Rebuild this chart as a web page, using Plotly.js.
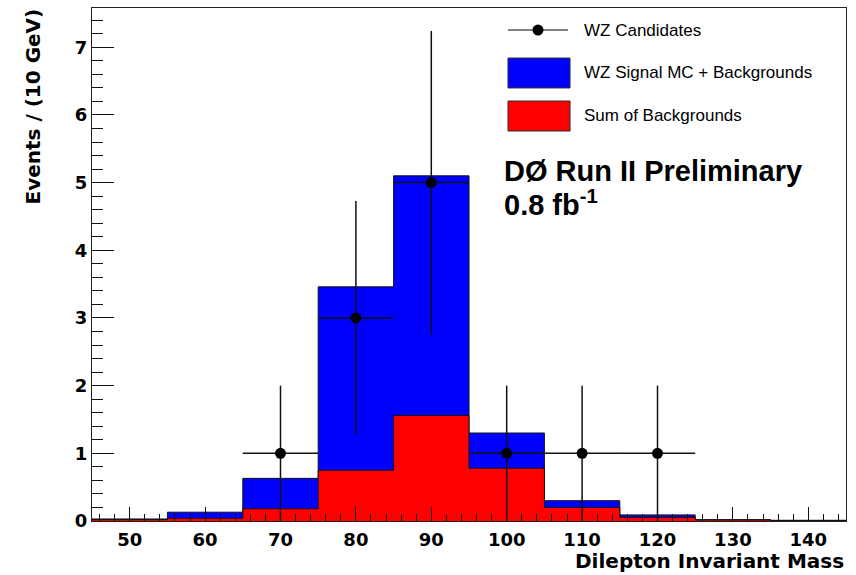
<!DOCTYPE html>
<html>
<head>
<meta charset="utf-8">
<script src="https://cdn.plot.ly/plotly-3.0.1.min.js"></script>
<style>html,body{margin:0;padding:0;background:#fff;}#chart{width:856px;height:575px;}</style>
</head>
<body>
<div id="chart"></div>
<script>
// Bin low edges (GeV), bin width 10
var binEdges = [45, 55, 65, 75, 85, 95, 105, 115, 125, 135, 145];
// WZ Signal MC + Backgrounds (stacked total)
var signalPlusBkg = [0.03, 0.13, 0.63, 3.46, 5.10, 1.30, 0.30, 0.09, 0.02, 0.01];
// Sum of Backgrounds
var sumBkg = [0.02, 0.04, 0.18, 0.75, 1.56, 0.78, 0.20, 0.055, 0.015, 0.008];
// WZ candidates (data)
var dataX = [70, 80, 90, 100, 110, 120];
var dataY = [1, 3, 5, 1, 1, 1];
var dataErrY = [1.0, 1.73, 2.24, 1.0, 1.0, 1.0];
var dataErrX = [5, 5, 5, 5, 5, 5];
var xTickVals = [50, 60, 70, 80, 90, 100, 110, 120, 130, 140];
var yTickVals = [0, 1, 2, 3, 4, 5, 6, 7];

function stepY(v) { return v.concat([v[v.length - 1]]); }

var traces = [
  {
    type: 'scatter', mode: 'lines', x: binEdges, y: stepY(signalPlusBkg),
    line: {shape: 'hv', color: '#111', width: 1},
    fill: 'tozeroy', fillcolor: '#0000ff', hoverinfo: 'skip', showlegend: false
  },
  {
    type: 'scatter', mode: 'lines', x: binEdges, y: stepY(sumBkg),
    line: {shape: 'hv', color: '#111', width: 1},
    fill: 'tozeroy', fillcolor: '#ff0000', hoverinfo: 'skip', showlegend: false
  },
  {
    type: 'scatter', mode: 'markers', x: dataX, y: dataY,
    marker: {color: '#000', size: 11},
    error_y: {type: 'data', array: dataErrY, visible: true, color: '#111', thickness: 1.5, width: 0},
    error_x: {type: 'data', array: dataErrX, visible: true, color: '#111', thickness: 1.5, width: 0},
    showlegend: false
  }
];

var tickFont = {family: 'DejaVu Sans', size: 18, weight: 'bold', color: '#000'};
var titleFont = {family: 'DejaVu Sans', size: 20, weight: 'bold', color: '#000'};
var legFont = {family: 'Liberation Sans', size: 17, color: '#000'};
var bigFont = {family: 'Liberation Sans', size: 29, weight: 'bold', color: '#000'};

var layout = {
  width: 856, height: 575,
  margin: {l: 92, r: 10, t: 8, b: 54},
  paper_bgcolor: '#fff', plot_bgcolor: '#fff',
  showlegend: false,
  xaxis: {
    range: [45, 145], tickvals: xTickVals, ticks: 'inside', ticklen: 14, tickcolor: '#111', tickwidth: 1,
    minor: {dtick: 2, tick0: 0, ticks: 'inside', ticklen: 7, tickcolor: '#111', showgrid: false},
    showgrid: false, zeroline: false, showline: true, linecolor: '#222', linewidth: 1, mirror: true,
    tickfont: tickFont, ticklabelstandoff: 2
  },
  yaxis: {
    range: [0, 7.58], tickvals: yTickVals, ticks: 'inside', ticklen: 22, tickcolor: '#111', tickwidth: 1,
    minor: {dtick: 0.2, tick0: 0, ticks: 'inside', ticklen: 11, tickcolor: '#111', showgrid: false},
    showgrid: false, zeroline: false, showline: true, linecolor: '#222', linewidth: 1, mirror: true,
    tickfont: tickFont, ticklabelstandoff: 0
  },
  shapes: [
    {type: 'line', xref: 'paper', yref: 'paper', x0: 0.5517, x1: 0.6313, y0: 0.9571, y1: 0.9571, line: {color: '#000', width: 1}},
    {type: 'circle', xref: 'paper', yref: 'paper', xsizemode: 'pixel', ysizemode: 'pixel', xanchor: 0.5915, yanchor: 0.9571, x0: -5.5, x1: 5.5, y0: -5.5, y1: 5.5, fillcolor: '#000', line: {color: '#000', width: 0}},
    {type: 'rect', xref: 'paper', yref: 'paper', x0: 0.5517, x1: 0.6340, y0: 0.8441, y1: 0.9025, fillcolor: '#0000ff', line: {color: '#333', width: 1}},
    {type: 'rect', xref: 'paper', yref: 'paper', x0: 0.5517, x1: 0.6340, y0: 0.7602, y1: 0.8187, fillcolor: '#ff0000', line: {color: '#333', width: 1}}
  ],
  annotations: [
    {text: 'WZ Candidates', xref: 'paper', yref: 'paper', x: 0.6499, y: 0.9571, xanchor: 'left', yanchor: 'middle', showarrow: false, font: legFont},
    {text: 'WZ Signal MC + Backgrounds', xref: 'paper', yref: 'paper', x: 0.6499, y: 0.8733, xanchor: 'left', yanchor: 'middle', showarrow: false, font: legFont},
    {text: 'Sum of Backgrounds', xref: 'paper', yref: 'paper', x: 0.6499, y: 0.7895, xanchor: 'left', yanchor: 'middle', showarrow: false, font: legFont},
    {text: 'DØ Run II Preliminary', xref: 'paper', yref: 'paper', x: 0.5437, y: 0.682, xanchor: 'left', yanchor: 'middle', showarrow: false, font: bigFont},
    {text: '0.8 fb<sup>-1</sup>', xref: 'paper', yref: 'paper', x: 0.5437, y: 0.620, xanchor: 'left', yanchor: 'middle', showarrow: false, font: bigFont},
    {text: 'Dilepton Invariant Mass', xref: 'paper', yref: 'paper', x: 1.0, y: -0.078, xanchor: 'right', yanchor: 'middle', showarrow: false, font: titleFont},
    {text: 'Events / (10 GeV)', xref: 'paper', yref: 'paper', x: -0.0782, y: 1.003, xanchor: 'center', yanchor: 'top', textangle: -90, showarrow: false, font: titleFont}
  ]
};

Plotly.newPlot('chart', traces, layout, {displayModeBar: false, staticPlot: true});
</script>
</body>
</html>
